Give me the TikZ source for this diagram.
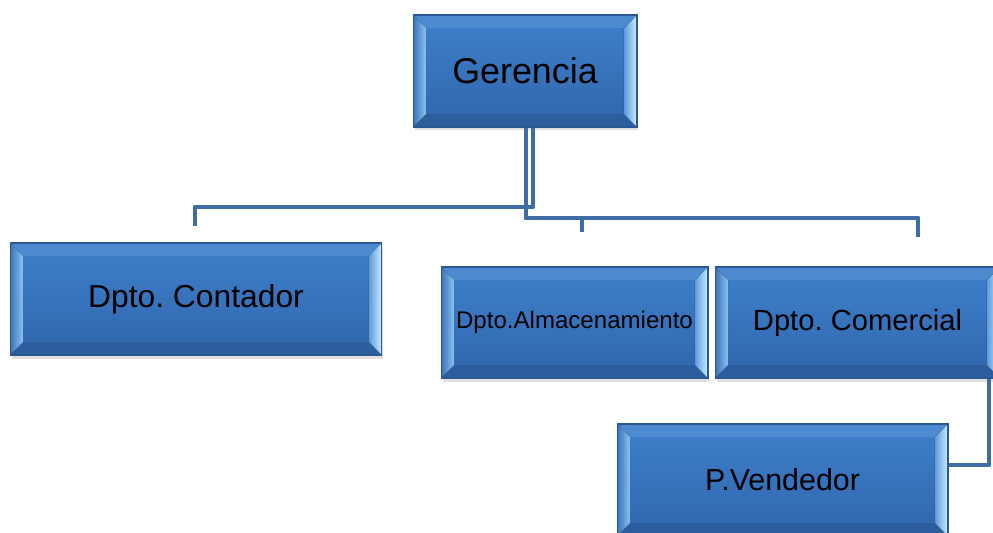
\documentclass[tikz,border=0pt]{standalone}
\usepackage{fontspec}
\setmainfont{Liberation Sans}
\usetikzlibrary{shadows}
\definecolor{azulA}{RGB}{62,128,204}
\definecolor{azulB}{RGB}{48,102,172}
\definecolor{borde}{RGB}{44,88,146}
\definecolor{linea}{RGB}{62,108,165}
\definecolor{biselClaro}{RGB}{140,195,242}
\definecolor{biselBrillo}{RGB}{205,238,255}
\frenchspacing

\begin{document}
\begin{tikzpicture}[x=0.02cm, y=-0.02cm,
  caja/.style={draw=borde, line width=0.6pt, top color=azulA, bottom color=azulB,
    minimum height=2.24cm, inner sep=0pt, text=black,
    drop shadow={opacity=0.25, shadow xshift=0.03cm, shadow yshift=-0.07cm},
    path picture={
      \path (path picture bounding box.north west) coordinate (p1)
            (path picture bounding box.north east) coordinate (p2)
            (path picture bounding box.south east) coordinate (p3)
            (path picture bounding box.south west) coordinate (p4);
      \fill[azulA!92!white] (p1) -- (p2) -- ([shift={(-0.26cm,-0.26cm)}]p2) -- ([shift={(0.26cm,-0.26cm)}]p1) -- cycle;
      \fill[azulB!92!black] (p4) -- (p3) -- ([shift={(-0.26cm,0.26cm)}]p3) -- ([shift={(0.26cm,0.26cm)}]p4) -- cycle;
      \fill[left color=azulA!90!black, right color=biselClaro] (p1) -- (p4) -- ([shift={(0.26cm,0.26cm)}]p4) -- ([shift={(0.26cm,-0.26cm)}]p1) -- cycle;
      \fill[left color=azulA!60!biselClaro, right color=biselBrillo] (p2) -- (p3) -- ([shift={(-0.26cm,0.26cm)}]p3) -- ([shift={(-0.26cm,-0.26cm)}]p2) -- cycle;
    }},
  conector/.style={draw=linea, line width=2.8pt, line join=round}]

  \useasboundingbox (0,0) rectangle (993,532);
  \clip (0,0) rectangle (993,532);
  \fill[white] (0,0) rectangle (993,532);

  \node[caja, minimum width=4.48cm, font=\fontsize{20.4}{24}\selectfont] (gerencia) at (525,71) {Gerencia};
  \node[caja, minimum width=7.44cm, font=\fontsize{18.1}{22}\selectfont] (contador) at (196,299) {Dpto. Contador};
  \node[caja, minimum width=5.34cm, minimum height=2.22cm, font=\fontsize{13.7}{16}\selectfont] (almacen) at (574.5,322.5) {Dpto.Almacenamiento};
  \node[caja, minimum width=5.7cm, minimum height=2.22cm, font=\fontsize{16.6}{20}\selectfont] (comercial) at (857.5,322.5) {Dpto. Comercial};
  \node[caja, minimum width=6.62cm, font=\fontsize{17.3}{21}\selectfont] (vendedor) at (782.5,480) {P.Vendedor};

  \coordinate (finContador) at (195,226);
  \coordinate (finAlmacen) at (582,232);
  \coordinate (finComercial) at (918,237);

  \draw[conector] ([xshift=0.16cm]gerencia.south) |- (195,207) -- (finContador);
  \draw[conector] ([xshift=0.02cm]gerencia.south) |- (918,218) -- (finComercial);
  \draw[conector] (582,218) -- (finAlmacen);
  \draw[conector] ([xshift=2.63cm]comercial.south) |- ([yshift=0.3cm]vendedor.east);
\end{tikzpicture}
\end{document}
